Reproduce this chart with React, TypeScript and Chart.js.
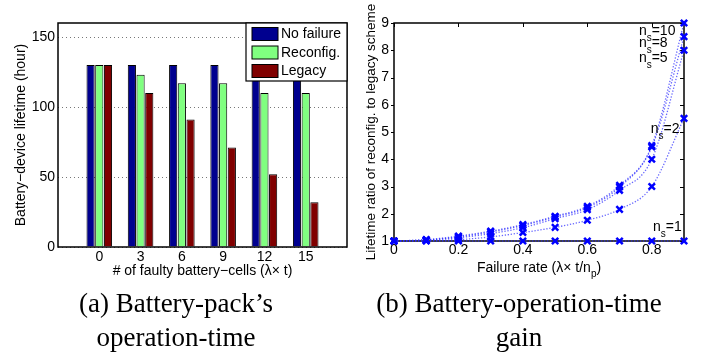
import React, { useEffect, useRef } from 'react';
import { Chart, registerables } from 'chart.js';

Chart.register(...registerables);

// ---- Panel (a) data ----
const faultyCells = [0, 3, 6, 9, 12, 15];
const noFailure = [130, 130, 130, 130, 130, 130];
const reconfig = [130, 123, 117, 117, 110, 110];
const legacy = [130, 110, 91, 71, 52, 32];
const lifetimeTicks = [0, 50, 100, 150];

// ---- Panel (b) data ----
const failureRate = [0, 0.1, 0.2, 0.3, 0.4, 0.5, 0.6, 0.7, 0.8, 0.9];
const ratioNs1 = [1, 1, 1, 1, 1, 1, 1, 1, 1, 1];
const ratioNs2 = [1, 1.01, 1.05, 1.15, 1.31, 1.5, 1.76, 2.16, 3.0, 5.5];
const ratioNs5 = [1, 1.03, 1.12, 1.27, 1.49, 1.82, 2.15, 2.86, 4.0, 8.0];
const ratioNs8 = [1, 1.04, 1.15, 1.33, 1.57, 1.88, 2.23, 2.98, 4.45, 8.5];
const ratioNs10 = [1, 1.05, 1.18, 1.36, 1.6, 1.91, 2.27, 3.04, 4.5, 9.0];
const rateTicks = [0, 0.2, 0.4, 0.6, 0.8];
const ratioTicks = [1, 2, 3, 4, 5, 6, 7, 8, 9];
const nsLabels = [
  { ns: '10', x: 0.76, y: 8.55 },
  { ns: '8', x: 0.76, y: 8.11 },
  { ns: '5', x: 0.76, y: 7.56 },
  { ns: '2', x: 0.797, y: 4.95 },
  { ns: '1', x: 0.804, y: 1.36 },
];

const SANS = "'Liberation Sans', Arial, Helvetica, sans-serif";
const SERIF = "'Liberation Serif', 'Times New Roman', serif";

export default function App() {
  const leftRef = useRef<HTMLCanvasElement>(null);
  const rightRef = useRef<HTMLCanvasElement>(null);

  useEffect(() => {
    Chart.defaults.font.family = SANS;
    Chart.defaults.font.size = 14;
    Chart.defaults.color = '#000';

    const toPts = (xs: number[], ys: number[]) => xs.map((x, i) => ({ x, y: ys[i] }));

    const leftPlugin = {
      id: 'leftDecor',
      afterDraw(chart: any) {
        const { ctx, chartArea: a } = chart;
        ctx.save();
        ctx.strokeStyle = '#000';
        ctx.lineWidth = 1.5;
        ctx.strokeRect(a.left, a.top, a.right - a.left, a.bottom - a.top);
        // legend box
        const w = 101;
        const h = 58;
        const lx = a.right - w;
        const ly = a.top;
        ctx.fillStyle = '#fff';
        ctx.fillRect(lx, ly, w, h);
        ctx.lineWidth = 1.2;
        ctx.strokeRect(lx, ly, w, h);
        const rows = [11, 29.5, 48];
        chart.data.datasets.forEach((ds: any, i: number) => {
          const cy = ly + rows[i];
          ctx.fillStyle = ds.backgroundColor;
          ctx.fillRect(lx + 6, cy - 6.5, 26, 13);
          ctx.lineWidth = 1;
          ctx.strokeStyle = '#000';
          ctx.strokeRect(lx + 6, cy - 6.5, 26, 13);
          ctx.fillStyle = '#000';
          ctx.font = `14px ${SANS}`;
          ctx.textBaseline = 'middle';
          ctx.textAlign = 'left';
          ctx.fillText(ds.label, lx + 35, cy + 0.5);
        });
        ctx.restore();
      },
    };

    const left = new Chart(leftRef.current!, {
      type: 'bar',
      data: {
        datasets: [
          { label: 'No failure', data: toPts(faultyCells, noFailure), backgroundColor: '#00008F', borderColor: '#000', borderWidth: 1 },
          { label: 'Reconfig.', data: toPts(faultyCells, reconfig), backgroundColor: '#80FF80', borderColor: '#000', borderWidth: 1 },
          { label: 'Legacy', data: toPts(faultyCells, legacy), backgroundColor: '#800000', borderColor: '#000', borderWidth: 1 },
        ],
      },
      options: {
        responsive: false,
        animation: false,
        events: [],
        layout: { padding: { top: 23, right: 13, left: 0, bottom: 3 } },
        datasets: { bar: { categoryPercentage: 0.632, barPercentage: 0.94, borderSkipped: 'start' } } as any,
        plugins: { legend: { display: false }, tooltip: { enabled: false } },
        scales: {
          x: {
            type: 'linear',
            offset: false,
            min: -3,
            max: 18,
            afterBuildTicks: (s: any) => { s.ticks = faultyCells.map((v) => ({ value: v })); },
            afterFit: (s: any) => { s.height = 38; },
            ticks: { padding: 2, font: { size: 14 }, color: '#000' },
            grid: { display: false, drawTicks: false },
            border: { display: false },
            title: { display: true, text: '# of faulty battery\u2212cells (\u03bb\u00d7 t)', font: { size: 14 }, color: '#000', padding: { top: 0, bottom: 5 } },
          },
          y: {
            min: 0,
            max: 160,
            afterBuildTicks: (s: any) => { s.ticks = lifetimeTicks.map((v) => ({ value: v })); },
            afterFit: (s: any) => { s.width = 58; },
            ticks: { padding: 3, font: { size: 14 }, color: '#000' },
            grid: { display: true, drawTicks: false, color: '#777', lineWidth: 1 },
            border: { display: false, dash: [1, 3] },
            title: { display: true, text: 'Battery\u2212device lifetime (hour)', font: { size: 14 }, color: '#000', padding: { top: 13, bottom: 0 } },
          },
        },
      } as any,
      plugins: [leftPlugin],
    });

    const rightPlugin = {
      id: 'rightDecor',
      beforeDatasetsDraw(chart: any) {
        const { ctx, chartArea: a, scales } = chart;
        ctx.save();
        ctx.strokeStyle = '#000';
        ctx.lineWidth = 1.5;
        ctx.strokeRect(a.left, a.top, a.right - a.left, a.bottom - a.top);
        ctx.lineWidth = 1;
        ratioTicks.forEach((v) => {
          const py = Math.round(scales.y.getPixelForValue(v)) + 0.5;
          ctx.beginPath();
          ctx.moveTo(a.right - 4, py);
          ctx.lineTo(a.right, py);
          ctx.moveTo(a.left - 3, py);
          ctx.lineTo(a.left, py);
          ctx.stroke();
        });
        rateTicks.forEach((v) => {
          const px = Math.round(scales.x.getPixelForValue(v)) + 0.5;
          ctx.beginPath();
          ctx.moveTo(px, a.top);
          ctx.lineTo(px, a.top + 4);
          ctx.stroke();
        });
        ctx.restore();
      },
      afterDraw(chart: any) {
        const { ctx, chartArea: a, scales } = chart;
        ctx.save();
        ctx.fillStyle = '#000';
        ctx.textAlign = 'left';
        ctx.textBaseline = 'alphabetic';
        nsLabels.forEach((l) => {
          const px = scales.x.getPixelForValue(l.x);
          const py = scales.y.getPixelForValue(l.y);
          ctx.font = `14px ${SANS}`;
          ctx.fillText('n', px, py);
          const nW = ctx.measureText('n').width;
          ctx.font = `10px ${SANS}`;
          ctx.fillText('s', px + nW, py + 6);
          const sW = ctx.measureText('s').width;
          ctx.font = `14px ${SANS}`;
          ctx.fillText('=' + l.ns, px + nW + sW, py);
        });
        // x-axis title with subscript
        const main = 'Failure rate (\u03bb\u00d7 t/n';
        const sub = 'p';
        const end = ')';
        ctx.font = `14px ${SANS}`;
        const w1 = ctx.measureText(main).width;
        const w3 = ctx.measureText(end).width;
        ctx.font = `10px ${SANS}`;
        const w2 = ctx.measureText(sub).width;
        const cx = (a.left + a.right) / 2;
        const by = a.bottom + 31;
        const x0 = cx - (w1 + w2 + w3) / 2;
        ctx.font = `14px ${SANS}`;
        ctx.fillText(main, x0, by);
        ctx.font = `10px ${SANS}`;
        ctx.fillText(sub, x0 + w1, by + 5);
        ctx.font = `14px ${SANS}`;
        ctx.fillText(end, x0 + w1 + w2, by);
        ctx.restore();
      },
    };

    const lineDs = (label: string, ys: number[]) => ({
      label,
      data: toPts(failureRate, ys),
      borderColor: 'rgba(40,40,255,0.7)',
      borderWidth: 1.3,
      borderDash: [1.3, 1.7],
      cubicInterpolationMode: 'monotone',
      pointStyle: 'crossRot',
      pointRadius: 4.5,
      pointBorderWidth: 2.5,
      pointBorderColor: '#0000FF',
      pointBackgroundColor: '#0000FF',
      clip: false,
      fill: false,
    });

    const right = new Chart(rightRef.current!, {
      type: 'line',
      data: {
        datasets: [
          lineDs('n_s=1', ratioNs1),
          lineDs('n_s=2', ratioNs2),
          lineDs('n_s=5', ratioNs5),
          lineDs('n_s=8', ratioNs8),
          lineDs('n_s=10', ratioNs10),
        ],
      },
      options: {
        responsive: false,
        animation: false,
        events: [],
        layout: { padding: { top: 23, right: 22, left: 0, bottom: 3 } },
        plugins: { legend: { display: false }, tooltip: { enabled: false } },
        scales: {
          x: {
            type: 'linear',
            offset: false,
            min: 0,
            max: 0.9,
            afterBuildTicks: (s: any) => { s.ticks = rateTicks.map((v) => ({ value: v })); },
            afterFit: (s: any) => { s.height = 44; },
            ticks: { padding: 1, font: { size: 14 }, color: '#000' },
            grid: { display: false, drawTicks: false },
            border: { display: false },
          },
          y: {
            min: 1,
            max: 9,
            afterBuildTicks: (s: any) => { s.ticks = ratioTicks.map((v) => ({ value: v })); },
            afterFit: (s: any) => { s.width = 34; },
            ticks: { padding: 5, font: { size: 14 }, color: '#000' },
            grid: { display: false, drawTicks: false },
            border: { display: false },
            title: { display: true, text: 'Lifetime ratio of reconfig. to legacy scheme', font: { size: 13.5 }, color: '#000', padding: { top: 3, bottom: 0 } },
          },
        },
      } as any,
      plugins: [rightPlugin],
    });

    return () => {
      left.destroy();
      right.destroy();
    };
  }, []);

  const captionStyle: React.CSSProperties = {
    position: 'absolute',
    top: 286,
    width: 320,
    textAlign: 'center',
    fontFamily: SERIF,
    fontSize: 27,
    lineHeight: '34px',
    color: '#000',
  };

  return (
    <div style={{ position: 'absolute', left: 0, top: 0, width: 706, height: 358, background: '#fff', overflow: 'hidden' }}>
      <canvas ref={leftRef} width={360} height={288} style={{ position: 'absolute', left: 0, top: 0 }} />
      <canvas ref={rightRef} width={346} height={288} style={{ position: 'absolute', left: 360, top: 0 }} />
      <div style={{ ...captionStyle, left: 176 - 160 }}>
        (a) Battery-pack’s
        <br />
        operation-time
      </div>
      <div style={{ ...captionStyle, left: 519 - 160 }}>
        (b) Battery-operation-time
        <br />
        gain
      </div>
    </div>
  );
}
